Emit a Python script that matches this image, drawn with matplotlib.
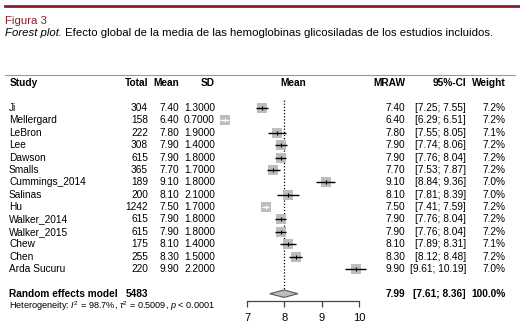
import matplotlib
matplotlib.use("Agg")
import matplotlib.pyplot as plt
from matplotlib import font_manager
from matplotlib.lines import Line2D
from matplotlib.patches import Polygon
from matplotlib.text import Annotation
import matplotlib.transforms as mtransforms

# ---------------- data ----------------
studies = ["Ji", "Mellergard", "LeBron", "Lee", "Dawson", "Smalls", "Cummings_2014",
           "Salinas", "Hu", "Walker_2014", "Walker_2015", "Chew", "Chen", "Arda Sucuru"]
total = [304, 158, 222, 308, 615, 365, 189, 200, 1242, 615, 615, 175, 255, 220]
mean = [7.40, 6.40, 7.80, 7.90, 7.90, 7.70, 9.10, 8.10, 7.50, 7.90, 7.90, 8.10, 8.30, 9.90]
sd = [1.3, 0.7, 1.9, 1.4, 1.8, 1.7, 1.8, 2.1, 1.7, 1.8, 1.8, 1.4, 1.5, 2.2]
ci_low = [7.25, 6.29, 7.55, 7.74, 7.76, 7.53, 8.84, 7.81, 7.41, 7.76, 7.76, 7.89, 8.12, 9.61]
ci_high = [7.55, 6.51, 8.05, 8.06, 8.04, 7.87, 9.36, 8.39, 7.59, 8.04, 8.04, 8.31, 8.48, 10.19]
weight = [7.2, 7.2, 7.1, 7.2, 7.2, 7.2, 7.0, 7.0, 7.2, 7.2, 7.2, 7.1, 7.2, 7.0]

pooled_total = 5483
pooled_est = 7.99
pooled_low = 7.61
pooled_high = 8.36
pooled_weight = 100.0
i2 = 98.7
tau2 = 0.5009
p_text = "< 0.0001"

x_ticks = [7, 8, 9, 10]

fig_title = "Figura 3"
caption_italic = "Forest plot."
caption_rest = "Efecto global de la media de las hemoglobinas glicosiladas de los estudios incluidos."

# ---------------- style ----------------
W, H = 520, 331
names = {f.name for f in font_manager.fontManager.ttflist}
narrow = "Liberation Sans Narrow" in names
cap_font = "Liberation Sans Narrow" if narrow else "Liberation Sans"
cap_size = 10.0 if narrow else 8.2
tab_font = "Liberation Sans"
plt.rcParams["font.family"] = [tab_font, "DejaVu Sans"]
plt.rcParams["mathtext.fontset"] = "custom"
plt.rcParams["mathtext.rm"] = tab_font
plt.rcParams["mathtext.it"] = tab_font + ":italic"

DARKRED = "#8e1b2e"
SQ = "#bdbdbd"
FS = 7.3

fig = plt.figure(figsize=(W / 100, H / 100), dpi=100)

# header lines
fig.add_artist(Line2D([5 / W, 1], [1 - 5.5 / H] * 2, transform=fig.transFigure,
                      color=DARKRED, lw=2.0))
fig.add_artist(Line2D([5 / W, 515 / W], [1 - 75 / H] * 2, transform=fig.transFigure,
                      color="#b98a8f", lw=0.8))

fig.text(5 / W, 1 - 24 / H, fig_title, color=DARKRED, family=cap_font,
         fontsize=cap_size, va="baseline", ha="left")
t1 = fig.text(5 / W, 1 - 37.5 / H, caption_italic, color="black", family=cap_font,
              fontsize=cap_size, style="italic", va="bottom", ha="left")
ann = Annotation(" " + caption_rest, xy=(1, 0), xycoords=t1, va="bottom", ha="left",
                 family=cap_font, fontsize=cap_size, color="black",
                 annotation_clip=False)
fig.add_artist(ann)

# ---------------- forest axes ----------------
row0_px, row_step = 108.0, 12.38
ax_left_px, ax_right_px = 247.0, 359.3
ax_bottom_px, ax_top_px = 301.0, 78.0


def px2row(p):
    return (p - row0_px) / row_step


ax = fig.add_axes([ax_left_px / W, 1 - ax_bottom_px / H,
                   (ax_right_px - ax_left_px) / W, (ax_bottom_px - ax_top_px) / H])
ax.set_xlim(x_ticks[0], x_ticks[-1])
ax.set_ylim(px2row(ax_bottom_px), px2row(ax_top_px))
ax.patch.set_visible(False)
for s in ["top", "left", "right"]:
    ax.spines[s].set_visible(False)
ax.spines["bottom"].set_bounds(x_ticks[0], x_ticks[-1])
ax.spines["bottom"].set_color("#444444")
ax.spines["bottom"].set_linewidth(0.9)
ax.set_yticks([])
ax.set_xticks(x_ticks)
ax.set_xticklabels([str(t) for t in x_ticks])
ax.tick_params(axis="x", direction="out", length=4, width=0.9, color="#444444",
               labelsize=8, pad=4.5)

rows = list(range(len(studies)))
pooled_row = len(studies) + 1
het_row = pooled_row + 1
header_row = -2

# square size: side in px proportional to weight
sq_side_px = [10.3 * (w / max(weight)) ** 0.5 for w in weight]
px_per_unit = (ax_right_px - ax_left_px) / (x_ticks[-1] - x_ticks[0])

# dotted pooled line
ax.vlines(pooled_est, px2row(100), pooled_row - 0.3, colors="black",
          linestyles=(0, (1, 1.5)), lw=0.9, zorder=1)

for r, m, lo, hi, side in zip(rows, mean, ci_low, ci_high, sq_side_px):
    ax.scatter([m], [r], marker="s", s=(side * 0.72) ** 2, color=SQ, lw=0,
               zorder=2, clip_on=False)
    half = side / 2 / px_per_unit
    inside = (m - lo) < half and (hi - m) < half
    col = "white" if inside else "black"
    ax.hlines(r, lo, hi, colors=col, lw=1.0, zorder=3, clip_on=False)
    ax.scatter([m], [r], marker="|", s=9, color=col, lw=0.8, zorder=4, clip_on=False)

# diamond
dh = 0.3
diamond = Polygon([(pooled_low, pooled_row), (pooled_est, pooled_row - dh),
                   (pooled_high, pooled_row), (pooled_est, pooled_row + dh)],
                  closed=True, facecolor="#bdbdbd", edgecolor="#555555", lw=0.8, zorder=3)
ax.add_patch(diamond)

# ---------------- table text ----------------
tr = mtransforms.blended_transform_factory(fig.transFigure, ax.transData)


def put(xpx, row, s, ha="left", **kw):
    fig.text(xpx / W, row, s, transform=tr, ha=ha, va="center", fontsize=kw.pop("fontsize", FS),
             color=kw.pop("color", "black"), **kw)


X_STUDY, X_TOTAL, X_MEAN, X_SD = 9, 148, 179, 215
X_PLOT_HDR, X_MRAW, X_CI, X_W = 293, 405, 466, 506

put(X_STUDY + 1, header_row, "Study", weight="bold")
put(X_TOTAL, header_row, "Total", ha="right", weight="bold")
put(X_MEAN, header_row, "Mean", ha="right", weight="bold")
put(X_SD, header_row, "SD", ha="right", weight="bold")
put(X_PLOT_HDR, header_row, "Mean", ha="center", weight="bold")
put(X_MRAW, header_row, "MRAW", ha="right", weight="bold")
put(X_CI, header_row, "95%-CI", ha="right", weight="bold")
put(X_W, header_row, "Weight", ha="right", weight="bold")

for r, name, n, m, s, lo, hi, w in zip(rows, studies, total, mean, sd, ci_low, ci_high, weight):
    put(X_STUDY, r, name)
    put(X_TOTAL, r, f"{n}", ha="right")
    put(X_MEAN, r, f"{m:.2f}", ha="right")
    put(X_SD, r, f"{s:.4f}", ha="right")
    put(X_MRAW, r, f"{m:.2f}", ha="right")
    put(X_CI, r, f"[{lo:.2f}; {hi:.2f}]", ha="right")
    put(X_W, r, f"{w:.1f}%", ha="right")

put(X_STUDY, pooled_row, "Random effects model", weight="bold")
put(X_TOTAL, pooled_row, f"{pooled_total}", ha="right", weight="bold")
put(X_MRAW, pooled_row, f"{pooled_est:.2f}", ha="right", weight="bold")
put(X_CI, pooled_row, f"[{pooled_low:.2f}; {pooled_high:.2f}]", ha="right", weight="bold")
put(X_W, pooled_row, f"{pooled_weight:.1f}%", ha="right", weight="bold")

put(X_STUDY, het_row,
    r"Heterogeneity: $I^2$ = " + f"{i2}%, " + r"$\tau^2$ = " + f"{tau2:.4f}, " + r"$p$ " + p_text,
    fontsize=6.6)

fig.savefig("out.png", dpi=100)
